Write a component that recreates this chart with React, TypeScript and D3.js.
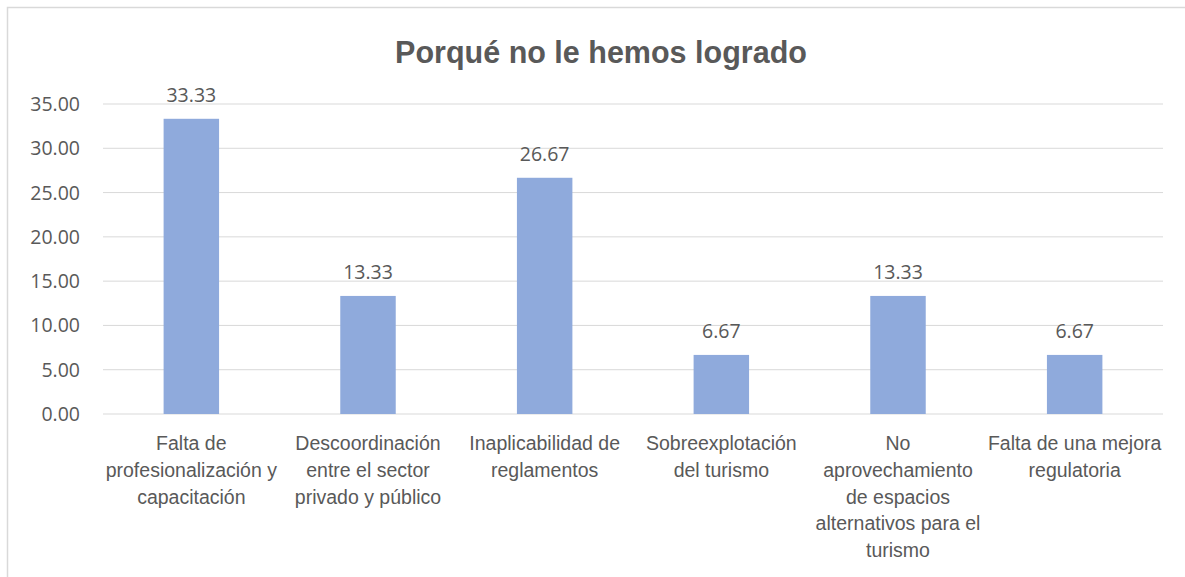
import React from "react";
import * as d3 from "d3";

const title = "Porqué no le hemos logrado";
const categories: string[][] = [
  ["Falta de", "profesionalización y", "capacitación"],
  ["Descoordinación", "entre el sector", "privado y público"],
  ["Inaplicabilidad de", "reglamentos"],
  ["Sobreexplotación", "del turismo"],
  ["No", "aprovechamiento", "de espacios", "alternativos para el", "turismo"],
  ["Falta de una mejora", "regulatoria"],
];
const values = [33.33, 13.33, 26.67, 6.67, 13.33, 6.67];
const ticks = [0, 5, 10, 15, 20, 25, 30, 35];

const W = 1185;
const H = 577;
const left = 103;
const right = 1163;
const top = 104;
const bottom = 414;
const font = "'Liberation Sans', Arial, sans-serif";
const numFont = "'Open Sans', 'Segoe UI', sans-serif";
const txt = "#595959";

export default function App() {
  const x = d3.scaleBand<number>().domain(values.map((_, i) => i)).range([left, right]).paddingInner(0.686).paddingOuter(0.343);
  const y = d3.scaleLinear().domain([0, 35]).range([bottom, top]);
  const band = d3.scaleBand<number>().domain(values.map((_, i) => i)).range([left, right]);
  return (
    <svg width={W} height={H} style={{ position: "absolute", left: 0, top: 0, background: "#fff" }}>
      <rect x={0} y={0} width={W} height={H} fill="#fff" />
      <path d={`M7.5,${H} V7.5 H${W}`} fill="none" stroke="#d9d9d9" strokeWidth={1.5} />
      <text x={601} y={63} textAnchor="middle" fontFamily={font} fontWeight="bold" fontSize={30.5} fill={txt}>{title}</text>
      {ticks.map((t) => (
        <g key={t}>
          <line x1={left} x2={right} y1={y(t)} y2={y(t)} stroke="#d9d9d9" strokeWidth={1} />
          <text x={80} y={y(t) + 7} textAnchor="end" fontFamily={numFont} fontSize={19.5} fill={txt}>{t.toFixed(2)}</text>
        </g>
      ))}
      {values.map((v, i) => (
        <g key={i}>
          <rect x={x(i)} y={y(v)} width={x.bandwidth()} height={bottom - y(v)} fill="#8faadc" />
          <text x={x(i)! + x.bandwidth() / 2} y={y(v) - 17} textAnchor="middle" fontFamily={numFont} fontSize={19.5} fill={txt}>{v.toFixed(2)}</text>
          {categories[i].map((line, j) => (
            <text key={j} x={band(i)! + band.bandwidth() / 2} y={450 + j * 26.8} textAnchor="middle" fontFamily={font} fontSize={19.5} fill={txt}>{line}</text>
          ))}
        </g>
      ))}
    </svg>
  );
}
